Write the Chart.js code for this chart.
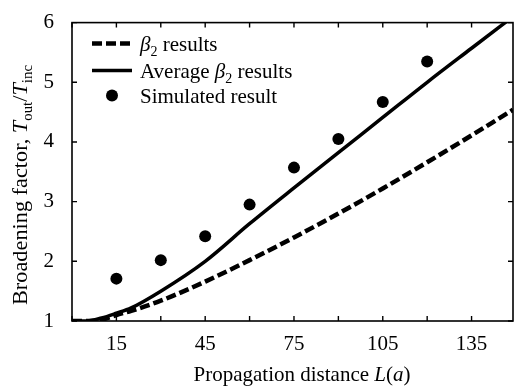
<!DOCTYPE html>
<html lang="en">
<head>
<meta charset="UTF-8">
<title>Broadening factor vs propagation distance</title>
<script src="https://cdn.jsdelivr.net/npm/chart.js"></script>
<style>
  body { margin: 0; background: #fff; }
  #chart { display: block; }
</style>
</head>
<body>
<canvas id="chart" width="519" height="390"></canvas>
<script>
// values
const lineX   = [0, 5, 10, 15, 20, 30, 45, 60, 75, 90, 105, 120, 135, 149];
const beta2Y  = [1.0, 1.0, 1.02, 1.1, 1.17, 1.34, 1.66, 2.02, 2.40, 2.80, 3.22, 3.66, 4.11, 4.54];
const avgY    = [1.0, 1.0, 1.05, 1.13, 1.22, 1.50, 2.0, 2.63, 3.23, 3.82, 4.41, 5.0, 5.57, 6.10];
const simX    = [15, 30, 45, 60, 75, 90, 105, 120];
const simY    = [1.71, 2.02, 2.42, 2.95, 3.57, 4.05, 4.67, 5.35];
const xTicks  = [0, 15, 30, 45, 60, 75, 90, 105, 120, 135];
const xLabels = [15, 45, 75, 105, 135];
const yTicks  = [1, 2, 3, 4, 5, 6];

const FONT = '"Liberation Serif", "Times New Roman", serif';
const SIZE = 21;
const SUB = 14;

function toPoints(xs, ys) {
  return xs.map((x, i) => ({ x: x, y: ys[i] }));
}

// draws text made of pieces (italic / subscript), returns end x
function drawRich(ctx, parts, x, y) {
  parts.forEach(p => {
    ctx.font = (p.italic ? 'italic ' : '') + (p.sub ? SUB : SIZE) + 'px ' + FONT;
    ctx.fillText(p.t, x, y + (p.sub ? 5 : 0));
    x += ctx.measureText(p.t).width;
  });
  return x;
}
function richWidth(ctx, parts) {
  let w = 0;
  parts.forEach(p => {
    ctx.font = (p.italic ? 'italic ' : '') + (p.sub ? SUB : SIZE) + 'px ' + FONT;
    w += ctx.measureText(p.t).width;
  });
  return w;
}

// box around the plot with inward ticks on all four sides
const framePlugin = {
  id: 'frame',
  afterDraw(chart) {
    const ctx = chart.ctx;
    const a = chart.chartArea;
    const xs = chart.scales.x, ys = chart.scales.y;
    const len = 5;
    ctx.save();
    ctx.strokeStyle = '#000';
    ctx.lineWidth = 1.6;
    ctx.strokeRect(a.left, a.top, a.right - a.left, a.bottom - a.top);
    ctx.lineWidth = 1.4;
    ctx.beginPath();
    xs.ticks.forEach(t => {
      const px = xs.getPixelForValue(t.value);
      ctx.moveTo(px, a.bottom); ctx.lineTo(px, a.bottom - len);
      ctx.moveTo(px, a.top); ctx.lineTo(px, a.top + len);
    });
    ys.ticks.forEach(t => {
      const py = ys.getPixelForValue(t.value);
      ctx.moveTo(a.left, py); ctx.lineTo(a.left + len, py);
      ctx.moveTo(a.right, py); ctx.lineTo(a.right - len, py);
    });
    ctx.stroke();
    ctx.restore();
  }
};

// axis titles and the legend inside the plot
const textPlugin = {
  id: 'texts',
  afterDraw(chart) {
    const ctx = chart.ctx;
    const a = chart.chartArea;
    ctx.save();
    ctx.fillStyle = '#000';
    ctx.textBaseline = 'alphabetic';
    ctx.textAlign = 'left';

    // x title
    const xt = [{ t: 'Propagation distance ' }, { t: 'L', italic: true }, { t: '(' }, { t: 'a', italic: true }, { t: ')' }];
    const xw = richWidth(ctx, xt);
    drawRich(ctx, xt, 302 - xw / 2, 381);

    // y title, rotated (the original figure is a bit stretched vertically)
    const yt = [{ t: 'Broadening factor, ' }, { t: 'T', italic: true }, { t: 'out', sub: true },
                { t: '/' }, { t: 'T', italic: true }, { t: 'inc', sub: true }];
    const yw = richWidth(ctx, yt);
    ctx.save();
    ctx.translate(27, 185);
    ctx.rotate(-Math.PI / 2);
    ctx.scale(240 / yw, 1);
    drawRich(ctx, yt, -yw / 2, 0);
    ctx.restore();

    // legend
    const lx0 = a.left + 20, lx1 = a.left + 60, tx = a.left + 68;
    const rows = [a.top + 21, a.top + 48, a.top + 73];
    ctx.strokeStyle = '#000';
    ctx.lineWidth = 4.5;
    ctx.setLineDash([10, 4]);
    ctx.beginPath(); ctx.moveTo(lx0, rows[0]); ctx.lineTo(lx1, rows[0]); ctx.stroke();
    ctx.setLineDash([]);
    ctx.lineWidth = 3.5;
    ctx.beginPath(); ctx.moveTo(lx0, rows[1]); ctx.lineTo(lx1, rows[1]); ctx.stroke();
    ctx.beginPath(); ctx.arc((lx0 + lx1) / 2, rows[2], 6, 0, Math.PI * 2); ctx.fill();

    drawRich(ctx, [{ t: 'β', italic: true }, { t: '2', sub: true }, { t: ' results' }], tx, rows[0] + 7);
    drawRich(ctx, [{ t: 'Average ' }, { t: 'β', italic: true }, { t: '2', sub: true }, { t: ' results' }], tx, rows[1] + 7);
    drawRich(ctx, [{ t: 'Simulated result' }], tx, rows[2] + 7);
    ctx.restore();
  }
};

new Chart(document.getElementById('chart'), {
  type: 'scatter',
  data: {
    datasets: [
      {
        label: 'β2 results',
        data: toPoints(lineX, beta2Y),
        showLine: true,
        borderColor: '#000',
        borderWidth: 4.5,
        borderDash: [10, 4],
        pointRadius: 0,
        cubicInterpolationMode: 'monotone',
        clip: 0
      },
      {
        label: 'Average β2 results',
        data: toPoints(lineX, avgY),
        showLine: true,
        borderColor: '#000',
        borderWidth: 3.5,
        pointRadius: 0,
        cubicInterpolationMode: 'monotone',
        clip: 0
      },
      {
        label: 'Simulated result',
        data: toPoints(simX, simY),
        showLine: false,
        pointRadius: 6,
        pointBackgroundColor: '#000',
        pointBorderWidth: 0
      }
    ]
  },
  options: {
    responsive: false,
    animation: false,
    layout: { padding: { top: 9, right: 1, left: 0, bottom: 0 } },
    plugins: { legend: { display: false }, tooltip: { enabled: false } },
    scales: {
      x: {
        type: 'linear',
        min: 0,
        max: 149,
        afterBuildTicks: s => { s.ticks = xTicks.map(v => ({ value: v })); },
        afterFit: s => { s.height = 69; },
        grid: { display: false },
        border: { display: false },
        ticks: {
          autoSkip: false,
          maxRotation: 0,
          padding: 3,
          color: '#000',
          font: { family: FONT, size: SIZE },
          callback: v => xLabels.includes(v) ? String(v) : ''
        }
      },
      y: {
        min: 1,
        max: 6,
        afterBuildTicks: s => { s.ticks = yTicks.map(v => ({ value: v })); },
        afterFit: s => { s.width = 72; },
        grid: { display: false },
        border: { display: false },
        ticks: {
          padding: 10,
          color: '#000',
          font: { family: FONT, size: SIZE }
        }
      }
    }
  },
  plugins: [framePlugin, textPlugin]
});
</script>
</body>
</html>
